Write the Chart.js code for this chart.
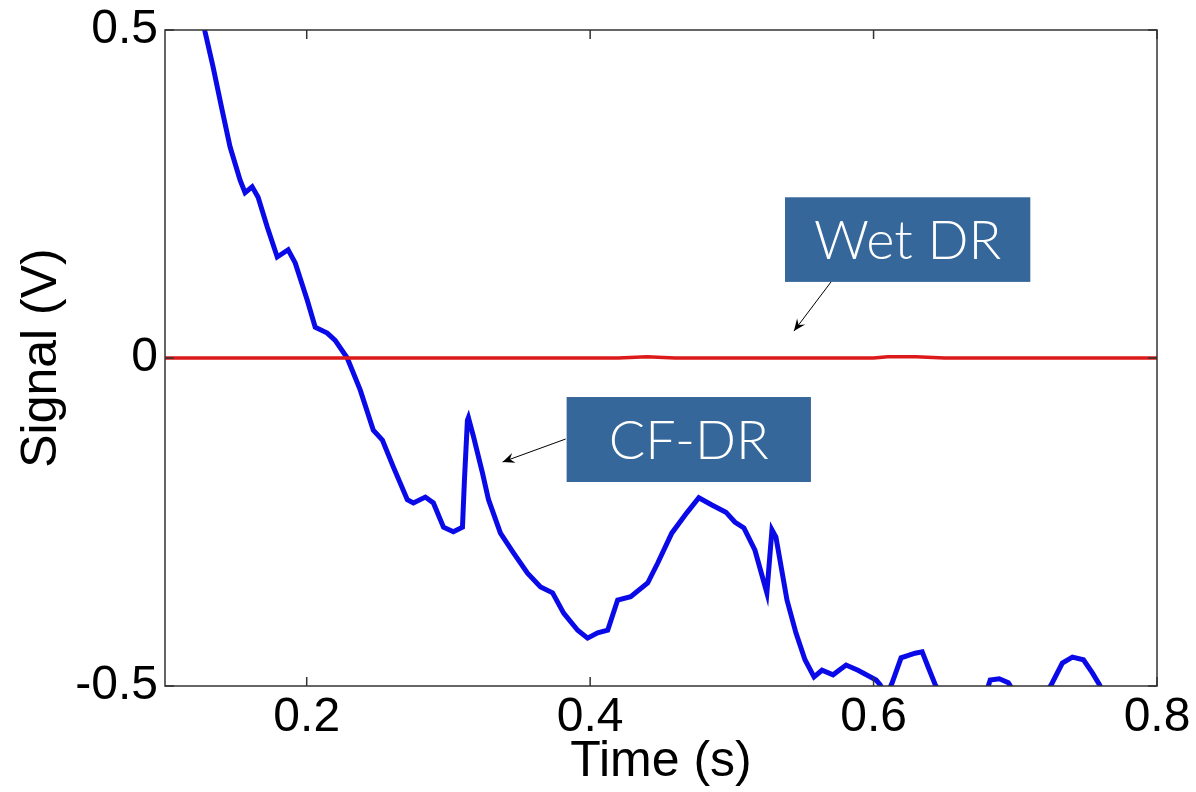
<!DOCTYPE html>
<html>
<head>
<meta charset="utf-8">
<script src="https://cdn.jsdelivr.net/npm/chart.js@4/dist/chart.umd.min.js"></script>
<style>
  html, body { margin: 0; padding: 0; background: #fff; }
  #wrap { width: 1196px; height: 792px; position: relative; }
</style>
</head>
<body>
<div id="wrap"><canvas id="myChart"></canvas></div>
<script>
'use strict';

// CF-DR signal (time in s, signal in V)
let cfTime = [0.125, 0.1283, 0.1339, 0.1403, 0.1459, 0.1530, 0.1565, 0.1615, 0.1657, 0.1721,
  0.1792, 0.1869, 0.1919, 0.2004, 0.2060, 0.2145, 0.2201, 0.2286, 0.2378, 0.2470,
  0.2534, 0.2611, 0.2710, 0.2753, 0.2837, 0.2894, 0.2965, 0.3035, 0.3099, 0.3113,
  0.3134, 0.3141, 0.3177, 0.3240, 0.3283, 0.3367, 0.3459, 0.3558, 0.3650, 0.3735,
  0.3813, 0.3912, 0.3982, 0.4053, 0.4124, 0.4194, 0.4286, 0.4406, 0.4477, 0.4576,
  0.4682, 0.4767, 0.4859, 0.4958, 0.5021, 0.5085, 0.5163, 0.5247, 0.5283, 0.5311,
  0.5389, 0.5452, 0.5516, 0.5580, 0.5636, 0.5714, 0.5806, 0.5890, 0.6018, 0.6046,
  0.6090, 0.6131, 0.6194, 0.6293, 0.6343, 0.6385, 0.6435, 0.6600, 0.6780, 0.6823,
  0.6887, 0.6951, 0.7050, 0.7200, 0.7254, 0.7332, 0.7403, 0.7481, 0.7544, 0.7594,
  0.7700, 0.8000];
let cfSignal = [0.535, 0.497, 0.444, 0.378, 0.322, 0.271, 0.252, 0.261, 0.245, 0.200,
  0.154, 0.165, 0.145, 0.088, 0.047, 0.038, 0.027, 0.000, -0.049, -0.110,
  -0.125, -0.166, -0.216, -0.221, -0.212, -0.221, -0.258, -0.265, -0.258, -0.186,
  -0.095, -0.091, -0.120, -0.175, -0.216, -0.267, -0.297, -0.328, -0.349, -0.358,
  -0.389, -0.415, -0.427, -0.419, -0.415, -0.369, -0.364, -0.343, -0.3125, -0.267,
  -0.236, -0.213, -0.224, -0.235, -0.250, -0.259, -0.293, -0.358, -0.262, -0.273,
  -0.369, -0.419, -0.460, -0.486, -0.476, -0.483, -0.468, -0.476, -0.491, -0.498,
  -0.515, -0.495, -0.457, -0.450, -0.448, -0.471, -0.498, -0.560, -0.520, -0.491,
  -0.489, -0.495, -0.530, -0.515, -0.498, -0.465, -0.456, -0.460, -0.480, -0.498,
  -0.550, -0.600];

// Wet DR signal, flat near zero
let wetTime = [0.1, 0.2, 0.3, 0.42, 0.44, 0.46, 0.5, 0.6, 0.61, 0.63, 0.65, 0.7, 0.8];
let wetSignal = [0, 0, 0, 0, 0.002, 0, 0, 0, 0.002, 0.002, 0, 0, 0];

let xTicks = [0.2, 0.4, 0.6, 0.8];
let xTickLabels = ['0.2', '0.4', '0.6', '0.8'];
let yTicks = [-0.5, 0, 0.5];
let yTickLabels = ['-0.5', '0', '0.5'];

// callout boxes and arrows, in data units
let callouts = [
  { text: 'Wet DR', x0: 0.5375, x1: 0.7106, y0: 0.245, y1: 0.116, ax0: 0.570, ay0: 0.116, ax1: 0.5438, ay1: 0.041 },
  { text: 'CF-DR', x0: 0.3834, x1: 0.5558, y0: -0.0595, y1: -0.189, ax0: 0.3827, ay0: -0.1235, ax1: 0.3382, ay1: -0.1585 }
];

function toPoints(xs, ys) {
  let pts = [];
  for (let i = 0; i < xs.length; i++) {
    pts.push({ x: xs[i], y: ys[i] });
  }
  return pts;
}

let framePlugin = {
  id: 'frame',
  afterDraw(chart) {
    let ctx = chart.ctx;
    let a = chart.chartArea;
    let xs = chart.scales.x;
    let ys = chart.scales.y;
    let len = 9;
    ctx.save();
    ctx.strokeStyle = '#333';
    ctx.lineWidth = 1.5;
    ctx.strokeRect(a.left, a.top, a.right - a.left, a.bottom - a.top);
    ctx.beginPath();
    xTicks.forEach(v => {
      let px = xs.getPixelForValue(v);
      ctx.moveTo(px, a.bottom); ctx.lineTo(px, a.bottom - len);
      ctx.moveTo(px, a.top); ctx.lineTo(px, a.top + len);
    });
    yTicks.forEach(v => {
      let py = ys.getPixelForValue(v);
      ctx.moveTo(a.left, py); ctx.lineTo(a.left + len, py);
      ctx.moveTo(a.right, py); ctx.lineTo(a.right - len, py);
    });
    ctx.stroke();

    // callouts
    callouts.forEach(c => {
      let l = xs.getPixelForValue(c.x0), r = xs.getPixelForValue(c.x1);
      let t = ys.getPixelForValue(c.y0), b = ys.getPixelForValue(c.y1);
      ctx.fillStyle = '#35679a';
      ctx.fillRect(l, t, r - l, b - t);
      ctx.fillStyle = '#fff';
      ctx.font = '300 54px Lato, "Open Sans", "Noto Sans", sans-serif';
      ctx.textAlign = 'center';
      ctx.textBaseline = 'middle';
      ctx.fillText(c.text, (l + r) / 2, (t + b) / 2 + 2);

      let sx = xs.getPixelForValue(c.ax0), sy = ys.getPixelForValue(c.ay0);
      let ex = xs.getPixelForValue(c.ax1), ey = ys.getPixelForValue(c.ay1);
      let ang = Math.atan2(ey - sy, ex - sx);
      ctx.strokeStyle = '#000';
      ctx.lineWidth = 1;
      ctx.beginPath();
      ctx.moveTo(sx, sy); ctx.lineTo(ex, ey);
      ctx.stroke();
      let hl = 13, hw = 0.4;
      ctx.fillStyle = '#000';
      ctx.beginPath();
      ctx.moveTo(ex, ey);
      ctx.lineTo(ex - hl * Math.cos(ang - hw), ey - hl * Math.sin(ang - hw));
      ctx.lineTo(ex - hl * 0.6 * Math.cos(ang), ey - hl * 0.6 * Math.sin(ang));
      ctx.lineTo(ex - hl * Math.cos(ang + hw), ey - hl * Math.sin(ang + hw));
      ctx.closePath();
      ctx.fill();
    });
    ctx.restore();
  }
};

let ctx = document.getElementById('myChart').getContext('2d');

let myChart = new Chart(ctx, {
  type: 'line',
  data: {
    datasets: [{
      label: 'Wet DR',
      data: toPoints(wetTime, wetSignal),
      borderColor: '#dd1a1a',
      borderWidth: 3.5,
      pointRadius: 0,
      tension: 0
    }, {
      label: 'CF-DR',
      data: toPoints(cfTime, cfSignal),
      borderColor: '#0a0ae8',
      borderWidth: 5,
      pointRadius: 0,
      tension: 0
    }]
  },
  options: {
    responsive: true,
    maintainAspectRatio: false,
    animation: false,
    layout: { padding: { top: 30, right: 39, left: 0, bottom: 0 } },
    plugins: {
      legend: { display: false },
      tooltip: { enabled: false }
    },
    scales: {
      x: {
        type: 'linear',
        min: 0.1,
        max: 0.8,
        grid: { display: false, drawTicks: false },
        border: { display: false },
        afterBuildTicks: scale => { scale.ticks = xTicks.map(v => ({ value: v })); },
        afterFit: scale => {
          scale.height = 106;
          scale.paddingLeft = 0;
          scale.paddingRight = 0;
        },
        ticks: {
          autoSkip: false,
          maxRotation: 0,
          padding: 3,
          color: '#000',
          font: { family: '"Liberation Sans", Arial, sans-serif', size: 48 },
          callback: (v, i) => xTickLabels[i]
        },
        title: {
          display: true,
          text: 'Time (s)',
          color: '#000',
          padding: { top: 0, bottom: 0 },
          font: { family: '"Liberation Sans", Arial, sans-serif', size: 50 }
        }
      },
      y: {
        type: 'linear',
        min: -0.5,
        max: 0.5,
        grid: { display: false, drawTicks: false },
        border: { display: false },
        afterBuildTicks: scale => { scale.ticks = yTicks.map(v => ({ value: v })); },
        afterFit: scale => {
          scale.width = 165;
          scale.paddingTop = 0;
          scale.paddingBottom = 0;
        },
        ticks: {
          autoSkip: false,
          padding: 7,
          color: '#000',
          font: { family: '"Liberation Sans", Arial, sans-serif', size: 48 },
          callback: (v, i) => yTickLabels[i]
        },
        title: {
          display: true,
          text: 'Signal (V)',
          color: '#000',
          padding: { top: 12, bottom: 0 },
          font: { family: '"Liberation Sans", Arial, sans-serif', size: 50 }
        }
      }
    }
  },
  plugins: [framePlugin]
});
</script>
</body>
</html>
